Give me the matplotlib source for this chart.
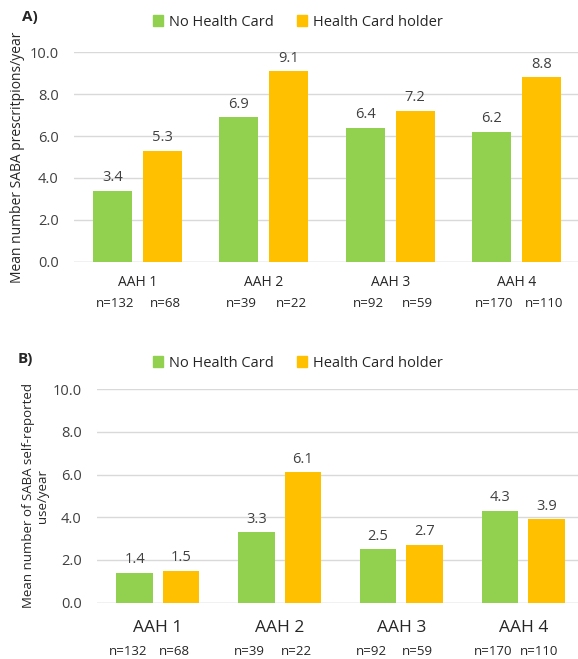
import numpy as np
import matplotlib
matplotlib.use('Agg')
import matplotlib.pyplot as plt
from matplotlib.patches import Patch

plt.rcParams['font.family'] = ['Open Sans', 'DejaVu Sans']

# data
groups = ['AAH 1', 'AAH 2', 'AAH 3', 'AAH 4']
n_no_card = ['n=132', 'n=39', 'n=92', 'n=170']
n_card = ['n=68', 'n=22', 'n=59', 'n=110']
presc_no_card = [3.4, 6.9, 6.4, 6.2]
presc_card = [5.3, 9.1, 7.2, 8.8]
self_no_card = [1.4, 3.3, 2.5, 4.3]
self_card = [1.5, 6.1, 2.7, 3.9]

green = '#92D050'
yellow = '#FFC000'
grid_c = '#D9D9D9'
txt_c = '#404040'

W, H = 578, 659
fig = plt.figure(figsize=(W / 100, H / 100), dpi=100)


def px_axes(left, right, top, bottom):
    return fig.add_axes([left / W, 1 - bottom / H, (right - left) / W, (bottom - top) / H])


def draw_panel(ax, v1, v2, xlim, width, gap, ylabel, ylab_size, cat_size, cat_off, n_off, n_shift):
    x = np.arange(len(groups))
    d = (width + gap) / 2
    b1 = ax.bar(x - d, v1, width, color=green, zorder=3)
    b2 = ax.bar(x + d, v2, width, color=yellow, zorder=3)
    for bars, vals in ((b1, v1), (b2, v2)):
        for b, v in zip(bars, vals):
            ax.annotate('%.1f' % v, (b.get_x() + b.get_width() / 2, v),
                        xytext=(0, 4), textcoords='offset points',
                        ha='center', va='bottom', fontsize=10.5, color=txt_c)
    ax.set_xlim(*xlim)
    ax.set_ylim(0, 10)
    ax.set_yticks(np.arange(0, 10.1, 2))
    ax.set_yticklabels(['%.1f' % t for t in np.arange(0, 10.1, 2)])
    ax.tick_params(axis='y', length=0, pad=11, labelsize=10.5, labelcolor=txt_c)
    ax.set_xticks([])
    ax.grid(axis='y', color=grid_c, lw=1, zorder=0)
    for s in ax.spines.values():
        s.set_visible(False)
    ax.axhline(0, color=grid_c, lw=1, zorder=1)
    ax.set_ylabel(ylabel, fontsize=ylab_size, color='#262626', linespacing=1.1)
    for i, g in enumerate(groups):
        ax.annotate(g, (x[i], 0), xycoords=('data', 'axes fraction'),
                    xytext=(0, -cat_off), textcoords='offset points',
                    ha='center', va='center', fontsize=cat_size, color='#262626')
        ax.annotate(n_no_card[i], (x[i] - d, 0), xycoords=('data', 'axes fraction'),
                    xytext=(n_shift, -n_off), textcoords='offset points',
                    ha='center', va='center', fontsize=9.5, color='#262626')
        ax.annotate(n_card[i], (x[i] + d, 0), xycoords=('data', 'axes fraction'),
                    xytext=(n_shift, -n_off), textcoords='offset points',
                    ha='center', va='center', fontsize=9.5, color='#262626')


# panel A
ax1 = px_axes(74, 578, 52.3, 261.7)
draw_panel(ax1, presc_no_card, presc_card, (-0.503, 3.487), 0.31, 0.085,
           'Mean number SABA prescritpions/year', 10, 10, 15, 30, 2)
ax1.yaxis.set_label_coords((25 - 74) / (578 - 74), 0.5)

# panel B
ax2 = px_axes(97, 578, 389.3, 602.5)
draw_panel(ax2, self_no_card, self_card, (-0.5, 3.45), 0.30, 0.082,
           'Mean number of SABA self-reported\nuse/year', 9.5, 12.5, 18.5, 35.5, -5)
ax2.yaxis.set_label_coords((49 - 97) / (578 - 97), 0.5)

handles = [Patch(color=green, label='No Health Card'),
           Patch(color=yellow, label='Health Card holder')]
for y in (22, 363):
    fig.legend(handles=handles, loc='center', bbox_to_anchor=(298 / W, 1 - y / H),
               ncol=2, frameon=False, fontsize=10.5, handlelength=0.7, handleheight=0.7,
               handletextpad=0.4, columnspacing=1.6, labelcolor='#262626')

fig.text(22 / W, 1 - 17 / H, 'A)', fontsize=11, fontweight='bold', va='center', color='#262626')
fig.text(18 / W, 1 - 359 / H, 'B)', fontsize=11, fontweight='bold', va='center', color='#262626')

fig.savefig('out.png', dpi=100)
